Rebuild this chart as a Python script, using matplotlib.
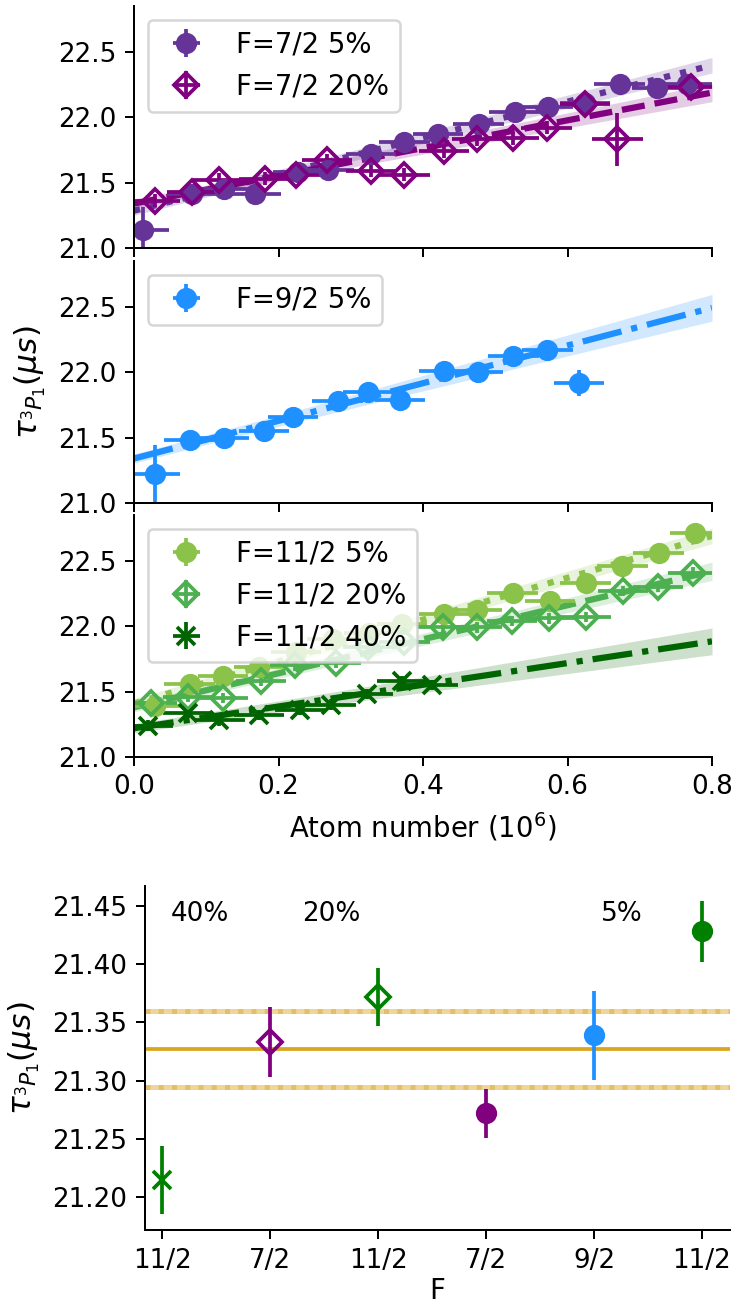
import numpy as np
import matplotlib
matplotlib.use('Agg')
import matplotlib.pyplot as plt

plt.rcParams['xtick.labelsize'] = 10.5
plt.rcParams['ytick.labelsize'] = 10.5

# ---- F=7/2 ----
x72_5 = [0.013, 0.080, 0.125, 0.168, 0.227, 0.269, 0.328, 0.374, 0.421, 0.477, 0.527, 0.573, 0.624, 0.672, 0.724, 0.765]
y72_5 = [21.14, 21.41, 21.45, 21.41, 21.58, 21.60, 21.72, 21.81, 21.87, 21.95, 22.04, 22.08, 22.11, 22.25, 22.22, 22.25]
ye72_5 = [0.17, 0.04, 0.04, 0.04, 0.04, 0.04, 0.04, 0.04, 0.04, 0.04, 0.04, 0.04, 0.04, 0.04, 0.07, 0.05]
x72_20 = [0.029, 0.080, 0.117, 0.181, 0.224, 0.267, 0.328, 0.374, 0.429, 0.475, 0.525, 0.571, 0.624, 0.669, 0.771]
y72_20 = [21.36, 21.43, 21.52, 21.53, 21.56, 21.67, 21.59, 21.56, 21.74, 21.83, 21.84, 21.92, 22.10, 21.83, 22.23]
ye72_20 = [0.05, 0.05, 0.05, 0.05, 0.05, 0.05, 0.05, 0.05, 0.05, 0.05, 0.05, 0.05, 0.06, 0.20, 0.06]

# ---- F=9/2 ----
x92_5 = [0.029, 0.077, 0.124, 0.180, 0.220, 0.282, 0.324, 0.368, 0.429, 0.476, 0.525, 0.572, 0.616]
y92_5 = [21.22, 21.48, 21.50, 21.55, 21.66, 21.78, 21.85, 21.79, 22.01, 22.00, 22.12, 22.17, 21.92]
ye92_5 = [0.22, 0.04, 0.04, 0.04, 0.04, 0.04, 0.04, 0.04, 0.04, 0.04, 0.04, 0.04, 0.10]

# ---- F=11/2 ----
x112_5 = [0.029, 0.077, 0.123, 0.173, 0.224, 0.275, 0.325, 0.371, 0.429, 0.475, 0.524, 0.576, 0.625, 0.676, 0.726, 0.777]
y112_5 = [21.39, 21.56, 21.62, 21.69, 21.80, 21.90, 21.95, 22.02, 22.09, 22.12, 22.25, 22.19, 22.33, 22.46, 22.56, 22.71]
ye112_5 = [0.04] * 16
x112_20 = [0.024, 0.075, 0.123, 0.176, 0.223, 0.279, 0.324, 0.374, 0.427, 0.475, 0.523, 0.575, 0.625, 0.677, 0.725, 0.774]
y112_20 = [21.41, 21.46, 21.45, 21.58, 21.70, 21.72, 21.84, 21.88, 21.99, 21.99, 22.04, 22.06, 22.07, 22.27, 22.30, 22.41]
ye112_20 = [0.04] * 16
x112_40 = [0.019, 0.075, 0.118, 0.173, 0.230, 0.272, 0.323, 0.371, 0.413]
y112_40 = [21.24, 21.34, 21.28, 21.32, 21.36, 21.40, 21.48, 21.58, 21.55]
ye112_40 = [0.04] * 9
xerr_atoms = 0.035

# linear fits: intercept, slope, intercept error, slope error
fit72_5 = [21.285, 1.39, 0.035, 0.06]
fit72_20 = [21.34, 1.06, 0.035, 0.075]
fit92_5 = [21.34, 1.44, 0.035, 0.12]
fit112_5 = [21.41, 1.60, 0.035, 0.06]
fit112_20 = [21.38, 1.30, 0.035, 0.075]
fit112_40 = [21.22, 0.83, 0.035, 0.12]

# ---- intercept comparison ----
F_labels = ['11/2', '7/2', '11/2', '7/2', '9/2', '11/2']
tau0 = [21.215, 21.333, 21.372, 21.272, 21.339, 21.428]
tau0_err = [0.029, 0.030, 0.025, 0.021, 0.038, 0.026]
tau0_colors = ['green', 'purple', 'green', 'purple', 'dodgerblue', 'green']
tau0_markers = ['x', 'D', 'D', 'o', 'o', 'o']
tau0_fill = ['full', 'none', 'none', 'full', 'full', 'full']
tau_mean = 21.327
tau_mean_err = 0.0325
pct_labels = ['40%', '20%', '5%']
pct_pos = [0.08, 1.3, 4.06]

ylab = r'$\tau_{^3P_1}(\mu s)$'
W, H = 733, 1308
fig = plt.figure(figsize=(W / 180, H / 180), dpi=180)

def panel(bottom_px):
    return fig.add_axes([134 / W, 1 - bottom_px / H, 578 / W, 242 / H])

ax1 = panel(248)
ax2 = panel(503)
ax3 = panel(757)
xf = np.linspace(0, 0.8, 100)

def fitline(ax, p, color, ls):
    a, b, da, db = p
    y = a + b * xf
    e = np.sqrt(da ** 2 + (db * xf) ** 2)
    ax.fill_between(xf, y - e, y + e, color=color, alpha=0.2, lw=0)
    ax.plot(xf, y, color=color, ls=ls, lw=2.5)

def pts(ax, x, y, ye, color, marker, fill, label):
    ax.errorbar(x, y, yerr=ye, xerr=xerr_atoms, fmt=marker, color=color,
                fillstyle=fill, ms=7, mew=1.5, capsize=0, label=label)

fitline(ax1, fit72_5, 'rebeccapurple', ':')
fitline(ax1, fit72_20, 'purple', '--')
pts(ax1, x72_5, y72_5, ye72_5, 'rebeccapurple', 'o', 'full', 'F=7/2 5%')
pts(ax1, x72_20, y72_20, ye72_20, 'purple', 'D', 'none', 'F=7/2 20%')

fitline(ax2, fit92_5, 'dodgerblue', '-.')
pts(ax2, x92_5, y92_5, ye92_5, 'dodgerblue', 'o', 'full', 'F=9/2 5%')

fitline(ax3, fit112_5, '#8BC34A', ':')
fitline(ax3, fit112_20, '#4CAF50', '--')
fitline(ax3, fit112_40, 'darkgreen', '-.')
pts(ax3, x112_5, y112_5, ye112_5, '#8BC34A', 'o', 'full', 'F=11/2 5%')
pts(ax3, x112_20, y112_20, ye112_20, '#4CAF50', 'D', 'none', 'F=11/2 20%')
pts(ax3, x112_40, y112_40, ye112_40, 'darkgreen', 'x', 'full', 'F=11/2 40%')

for ax in (ax1, ax2, ax3):
    ax.set_xlim(0, 0.8)
    ax.set_ylim(21.0, 22.85)
    ax.set_yticks([21.0, 21.5, 22.0, 22.5])
    ax.spines['top'].set_visible(False)
    ax.spines['right'].set_visible(False)
    ax.legend(loc='upper left', fontsize=11)
for ax in (ax1, ax2):
    ax.tick_params(labelbottom=False)
ax3.set_xticks([0.0, 0.2, 0.4, 0.6, 0.8])
ax3.set_xlabel('Atom number ($10^6$)', fontsize=11)
ax2.set_ylabel(ylab, fontsize=12.5)

# bottom panel
ax4 = fig.add_axes([145 / W, 1 - 1230 / H, 585 / W, 344 / H])
pos = np.arange(len(F_labels))
ax4.axhline(tau_mean, color='goldenrod', lw=1.5)
for s in (-1, 1):
    ax4.axhline(tau_mean + s * tau_mean_err, color='goldenrod', alpha=0.45, lw=2)
    ax4.axhline(tau_mean + s * tau_mean_err, color='goldenrod', alpha=0.45, lw=2, ls=':')
for i in range(len(pos)):
    ax4.errorbar(pos[i], tau0[i], yerr=tau0_err[i], fmt=tau0_markers[i],
                 color=tau0_colors[i], fillstyle=tau0_fill[i], ms=7, mew=1.5, capsize=0)
for t, p in zip(pct_labels, pct_pos):
    ax4.text(p, 21.443, t, va='center', ha='left', fontsize=10.5)
ax4.set_xticks(pos)
ax4.set_xticklabels(F_labels)
ax4.set_xlim(-0.16, 5.26)
ax4.set_ylim(21.172, 21.467)
ax4.set_yticks([21.20, 21.25, 21.30, 21.35, 21.40, 21.45])
ax4.spines['top'].set_visible(False)
ax4.spines['right'].set_visible(False)
ax4.set_xlabel('F', fontsize=11, labelpad=1.5)
ax4.set_ylabel(ylab, fontsize=12.5)

fig.savefig('out.png', dpi=180)
